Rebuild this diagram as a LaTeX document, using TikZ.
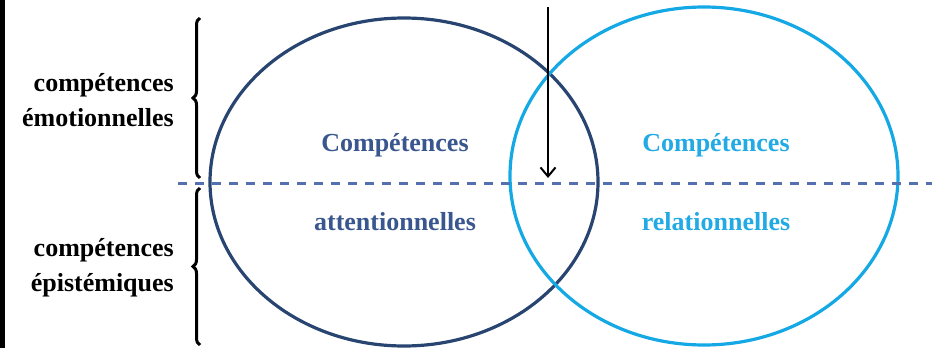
\documentclass[tikz,border=0pt]{standalone}
\usepackage{fontspec}
\setmainfont{Liberation Serif}
\usetikzlibrary{shapes.geometric, arrows.meta, decorations.pathreplacing}

\definecolor{darkcirc}{RGB}{40,68,112}
\definecolor{darktext}{RGB}{58,86,142}
\definecolor{lightcirc}{RGB}{20,168,228}
\definecolor{lighttext}{RGB}{34,170,228}
\definecolor{dashblue}{RGB}{84,112,176}

\tikzstyle{circdark} = [ellipse, draw=darkcirc, line width=3.2pt, minimum width=388pt, minimum height=328pt, inner sep=0pt]
\tikzstyle{circlight} = [ellipse, draw=lightcirc, line width=3.2pt, minimum width=388pt, minimum height=338pt, inner sep=0pt]
\tikzstyle{label} = [font=\fontsize{26}{35}\selectfont\bfseries, inner sep=0pt]
\tikzstyle{sidelabel} = [label, align=right, anchor=east, text=black]
\tikzstyle{bracebox} = [decorate, decoration={brace, mirror, amplitude=7pt}, line width=3pt]
\tikzstyle{arrow} = [line width=1.8pt, -{Straight Barb[length=9pt, width=15pt, line width=2pt]}]

\begin{document}
\begin{tikzpicture}[x=1pt, y=-1pt]
\useasboundingbox (0,0) rectangle (932,348);
\fill[black] (0,0) rectangle (5,348);

\node (attn) [circdark] at (404,182) {};
\node (rela) [circlight] at (704,176) {};

\node (attn1) [label, text=darktext] at (395,145) {Compétences};
\node (attn2) [label, text=darktext] at (395,222) {attentionnelles};
\node (rela1) [label, text=lighttext] at (716,145) {Compétences};
\node (rela2) [label, text=lighttext] at (716,222) {relationnelles};

\node (emo) [sidelabel] at (174,100) {compétences\\émotionnelles};
\node (epi) [sidelabel] at (174,268) {compétences\\épistémiques};

\coordinate (dashL) at (178,183);
\coordinate (dashR) at (932,183);
\draw [dashblue, line width=3pt, dash pattern=on 9pt off 8pt] (dashL) -- (dashR);

\coordinate (braceA) at (200,18);
\coordinate (braceB) at (200,178);
\coordinate (braceC) at (200,188);
\coordinate (braceD) at (200,345);
\draw [bracebox] (braceA) -- (braceB);
\draw [bracebox] (braceC) -- (braceD);

\coordinate (arrowtop) at (548,7);
\coordinate (arrowend) at (548,178);
\draw [arrow] (arrowtop) -- (arrowend);

\end{tikzpicture}
\end{document}
